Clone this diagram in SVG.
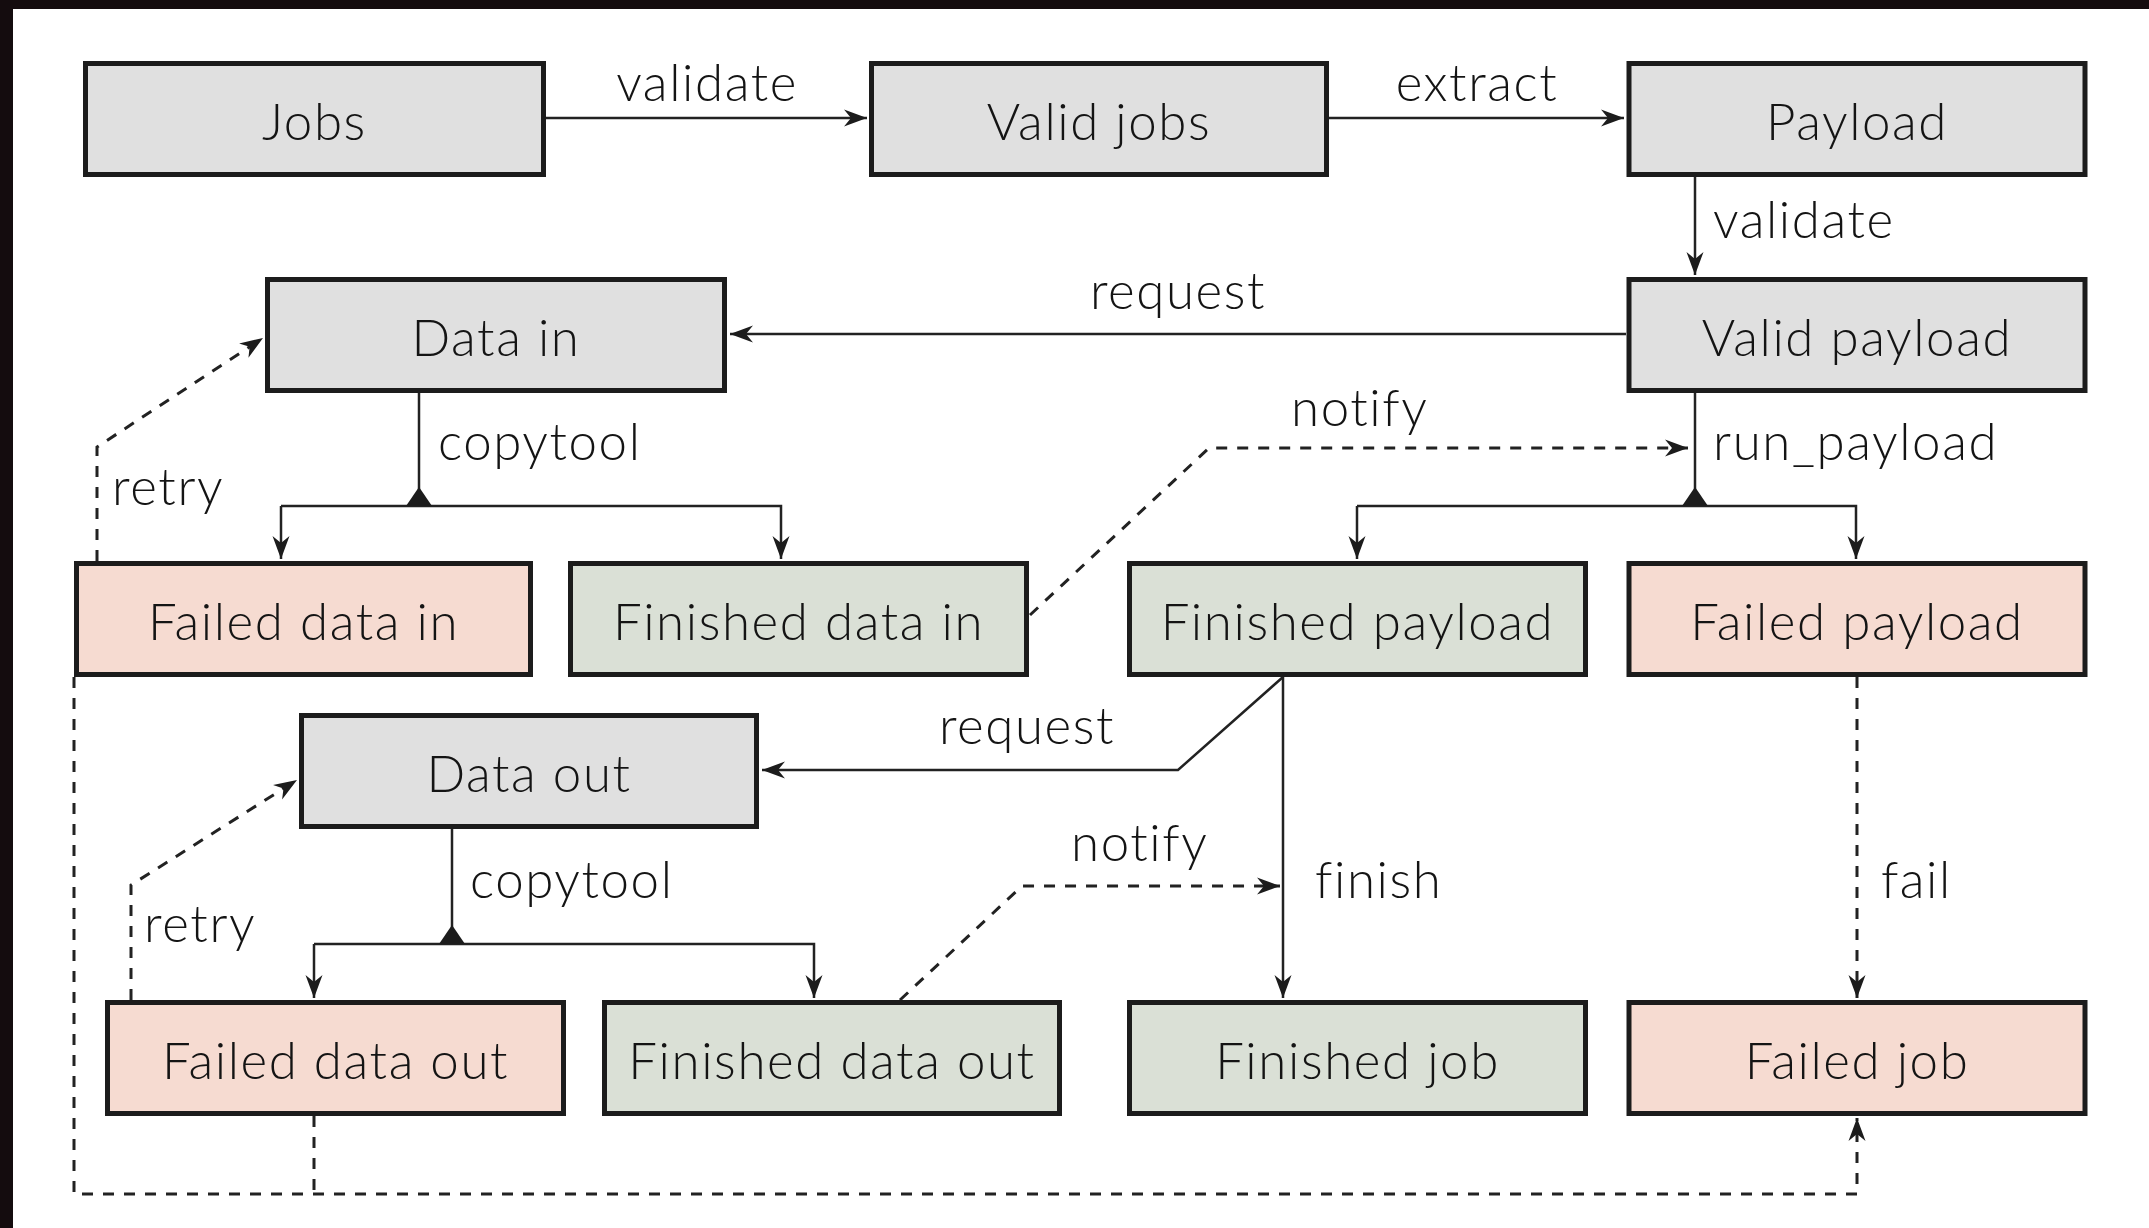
<svg xmlns="http://www.w3.org/2000/svg" width="2149" height="1228" viewBox="0 0 2149 1228">
  <style>
    .node rect { stroke: #1c1c1c; stroke-width: 5; }
    .gray rect { fill: #e0e0e0; }
    .fail rect { fill: #f6dbd1; }
    .done rect { fill: #dae0d6; }
    text { font-family: "Lato", "Open Sans", sans-serif; font-weight: 300; font-size: 51px; letter-spacing: 1.6px; fill: #141414; }
    .node text { text-anchor: middle; }
    .solid { fill: none; stroke: #222; stroke-width: 2.5; }
    .dash { fill: none; stroke: #222; stroke-width: 3; stroke-dasharray: 11 10; }
    .arr { marker-end: url(#head); }
    .tri { fill: #1c1c1c; }
  </style>
  <defs>
    <marker id="head" markerUnits="userSpaceOnUse" markerWidth="30" markerHeight="24" viewBox="-24 -12 30 24" refX="0" refY="0" orient="auto">
      <path d="M0,0 L-23,-8.5 L-16,0 L-23,8.5 Z" fill="#1c1c1c"/>
    </marker>
  </defs>

  <!-- page -->
  <rect x="0" y="0" width="2149" height="1228" fill="#140c0e"/>
  <rect x="13" y="9" width="2136" height="1219" fill="#ffffff"/>

  <!-- connectors -->
  <g id="connectors">
    <path class="solid arr" d="M546,118 H867"/>
    <path class="solid arr" d="M1329,118 H1624"/>
    <path class="solid arr" d="M1695,177 V275"/>
    <path class="solid arr" d="M1626,334 H730"/>

    <!-- copytool split (data in) -->
    <path class="solid" d="M419,393 V506"/>
    <path class="solid arr" d="M281,506 H781 V559"/>
    <path class="solid arr" d="M281,506 V559"/>
    <polygon class="tri" points="419,487 406,506 432,506"/>

    <!-- run_payload split -->
    <path class="solid" d="M1695,393 V506"/>
    <path class="solid arr" d="M1357,506 H1856 V559"/>
    <path class="solid arr" d="M1357,506 V559"/>
    <polygon class="tri" points="1695,487 1682,506 1708,506"/>

    <!-- notify from finished data in -->
    <path class="dash arr" d="M1030,615 L1209,448 H1688"/>

    <!-- finish / request out of finished payload -->
    <path class="solid arr" d="M1283,677 V998"/>
    <path class="solid arr" d="M1283,677 L1178,770 H762"/>

    <!-- copytool split (data out) -->
    <path class="solid" d="M452,829 V944"/>
    <path class="solid arr" d="M314,944 H814 V998"/>
    <path class="solid arr" d="M314,944 V998"/>
    <polygon class="tri" points="452,925 439,944 465,944"/>

    <!-- notify from finished data out -->
    <path class="dash arr" d="M900,1000 L1022,886 H1280"/>

    <!-- fail -->
    <path class="dash arr" d="M1857,677 V998"/>

    <!-- retries -->
    <path class="dash arr" d="M97,561 V447 L263,338"/>
    <path class="dash arr" d="M131,1000 V885 L297,780"/>

    <!-- failed transfers to failed job -->
    <path class="dash" d="M314,1116 V1194"/>
    <path class="dash arr" d="M74,677 V1194 H1857 V1118"/>

    <!-- edge labels -->
    <text x="707" y="101" text-anchor="middle">validate</text>
    <text x="1477" y="101" text-anchor="middle">extract</text>
    <text x="1713" y="238">validate</text>
    <text x="1178" y="309" text-anchor="middle">request</text>
    <text x="438" y="460">copytool</text>
    <text x="112" y="505">retry</text>
    <text x="1291" y="426">notify</text>
    <text x="1713" y="460">run_payload</text>
    <text x="1027" y="744" text-anchor="middle">request</text>
    <text x="470" y="898">copytool</text>
    <text x="144" y="942">retry</text>
    <text x="1071" y="861">notify</text>
    <text x="1315" y="898">finish</text>
    <text x="1881" y="898">fail</text>
  </g>

  <!-- row 1 -->
  <g id="jobs" class="node gray"><rect x="85.5" y="63.5" width="458" height="111"/><text x="314.5" y="140">Jobs</text></g>
  <g id="valid-jobs" class="node gray"><rect x="871.5" y="63.5" width="455" height="111"/><text x="1099" y="140">Valid jobs</text></g>
  <g id="payload" class="node gray"><rect x="1629" y="63.5" width="456" height="111"/><text x="1857" y="140">Payload</text></g>

  <!-- row 2 -->
  <g id="data-in" class="node gray"><rect x="267.5" y="279.5" width="457" height="111"/><text x="496" y="356">Data in</text></g>
  <g id="valid-payload" class="node gray"><rect x="1629" y="279.5" width="456" height="111"/><text x="1857" y="356">Valid payload</text></g>

  <!-- row 3 -->
  <g id="failed-data-in" class="node fail"><rect x="76.5" y="563.5" width="454" height="111"/><text x="303.5" y="640">Failed data in</text></g>
  <g id="finished-data-in" class="node done"><rect x="570.5" y="563.5" width="456" height="111"/><text x="798.5" y="640">Finished data in</text></g>
  <g id="finished-payload" class="node done"><rect x="1129.5" y="563.5" width="456" height="111"/><text x="1357.5" y="640">Finished payload</text></g>
  <g id="failed-payload" class="node fail"><rect x="1629" y="563.5" width="456" height="111"/><text x="1857" y="640">Failed payload</text></g>

  <!-- row 4 -->
  <g id="data-out" class="node gray"><rect x="301.5" y="715.5" width="455" height="111"/><text x="529" y="792">Data out</text></g>

  <!-- row 5 -->
  <g id="failed-data-out" class="node fail"><rect x="107.5" y="1002.5" width="456" height="111"/><text x="335.5" y="1079">Failed data out</text></g>
  <g id="finished-data-out" class="node done"><rect x="604.5" y="1002.5" width="455" height="111"/><text x="832" y="1079">Finished data out</text></g>
  <g id="finished-job" class="node done"><rect x="1129.5" y="1002.5" width="456" height="111"/><text x="1357.5" y="1079">Finished job</text></g>
  <g id="failed-job" class="node fail"><rect x="1629" y="1002.5" width="456" height="111"/><text x="1857" y="1079">Failed job</text></g>
</svg>
